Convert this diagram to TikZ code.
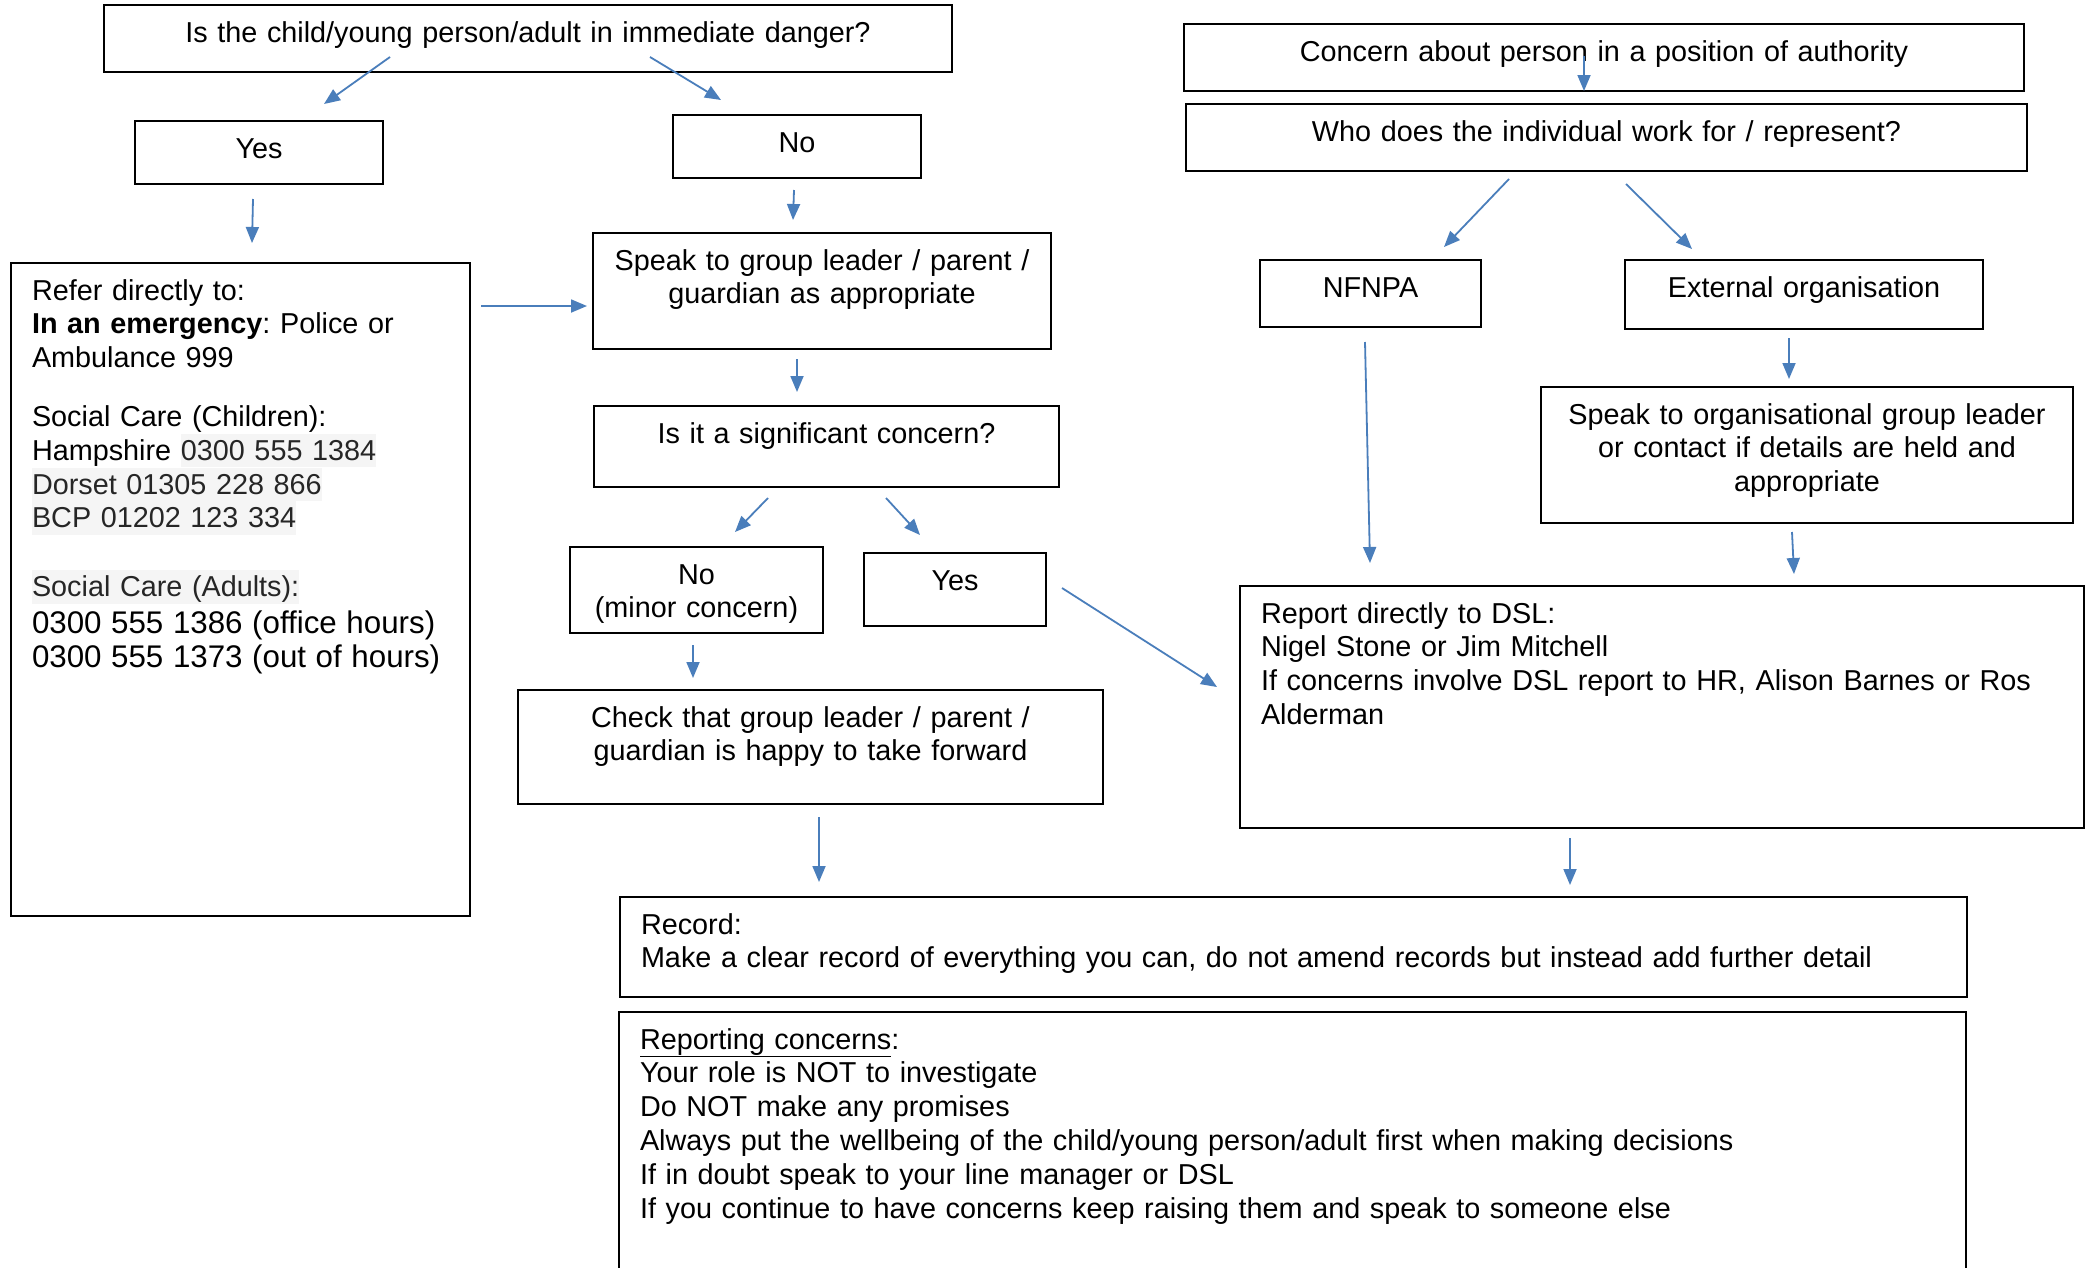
\documentclass[tikz,border=0pt]{standalone}
\usepackage{fontspec}
\setmainfont{Liberation Sans}
\usetikzlibrary{arrows.meta}
\definecolor{arrowblue}{RGB}{74,126,187}
\definecolor{hlgrey}{RGB}{245,245,245}
\newcommand{\hlt}[1]{{\setlength{\fboxsep}{0pt}\colorbox{hlgrey}{\rule[-7pt]{0pt}{33.5pt}\color{black!85}#1}}}
\frenchspacing
\begin{document}
\frenchspacing
\begin{tikzpicture}[x=1pt,y=-1pt,
  box/.style={draw=black, line width=1.5pt, inner ysep=0pt, outer sep=0pt, anchor=north west, text height=37pt, font=\fontsize{28.8}{33.8}\selectfont\frenchspacing},
  cbox/.style={box, align=center, inner xsep=10pt},
  lbox/.style={box, align=left, inner xsep=21pt},
  arr/.style={draw=arrowblue, line width=1.8pt, -{Triangle[length=16pt,width=13pt]}},
]
\fill[white] (0,0) rectangle (2090,1267);
\useasboundingbox (0,0) rectangle (2090,1267);

% left column
\node[cbox, text width=828pt, text depth=30pt] (top) at (104,5) {Is the child/young person/adult in immediate danger?};
\node[cbox, text width=228pt, text depth=26pt] (yes1) at (135,121) {Yes};
\node[cbox, text width=228pt, text depth=26pt] (no1) at (673,115) {No};
\node[lbox, text width=417pt, text depth=616pt] (refer) at (11,263) {Refer directly to:\\
\textbf{In an emergency}: Police or\\
Ambulance 999\\[25pt]
Social Care (Children):\\
Hampshire \hlt{0300 555 1384}\\
\hlt{Dorset 01305 228 866}\\
\hlt{BCP 01202 123 334}\\[35pt]
\hlt{Social Care (Adults):}\\[6pt]
\fontsize{31.3}{29}\selectfont\mbox{0300 555 1386 (office hours)}\\
\mbox{0300 555 1373 (out of hours)}};
\node[cbox, text width=438pt, text depth=79pt] (speak) at (593,233) {Speak to group leader / parent /\\guardian as appropriate};
\node[cbox, text width=445pt, text depth=44pt] (sig) at (594,406) {Is it a significant concern?};
\node[cbox, text width=233pt, text depth=49pt] (nominor) at (570,547) {No\\(minor concern)};
\node[cbox, text width=162pt, text depth=36pt] (yes2) at (864,553) {Yes};
\node[cbox, text width=565pt, text depth=77pt] (check) at (518,690) {Check that group leader / parent /\\guardian is happy to take forward};
\node[lbox, text width=1305pt, text depth=63pt] (record) at (620,897) {Record:\\Make a clear record of everything you can, do not amend records but instead add further detail};
\node[lbox, text width=1305pt, text depth=251pt] (report) at (619,1012) {\underline{Reporting concerns}:\\
Your role is NOT to investigate\\
Do NOT make any promises\\
Always put the wellbeing of the child/young person/adult first when making decisions\\
If in doubt speak to your line manager or DSL\\
If you continue to have concerns keep raising them and speak to someone else};

% right column
\node[cbox, text width=820pt, text depth=30pt] (concern) at (1184,24) {Concern about person in a position of authority};
\node[cbox, text width=821pt, text depth=30pt] (who) at (1186,104) {Who does the individual work for / represent?};
\node[cbox, text width=201pt, text depth=30pt] (nfnpa) at (1260,260) {NFNPA};
\node[cbox, text width=338pt, text depth=32pt] (ext) at (1625,260) {External organisation};
\node[cbox, text width=512pt, text depth=99pt] (speakorg) at (1541,387) {Speak to organisational group leader\\or contact if details are held and\\appropriate};
\node[lbox, text width=802pt, text depth=205pt] (dsl) at (1240,586) {Report directly to DSL:\\
Nigel Stone or Jim Mitchell\\
If concerns involve DSL report to HR, Alison Barnes or Ros\\
Alderman};

% connectors
\draw[arr] ([shift={(-138,-15)}]top.south) -- ([shift={(65,-17)}]yes1.north);
\draw[arr] ([shift={(122,-15)}]top.south) -- ([shift={(-76,-15)}]no1.north);
\draw[arr] ([shift={(-6,15)}]yes1.south) -- ([shift={(11.5,-20)}]refer.north);
\draw[arr] ([shift={(-3,12)}]no1.south) -- ([shift={(-29,-13)}]speak.north);
\draw[arr] ([shift={(11,43)}]refer.north east) -- ([shift={(-6,15)}]speak.west);
\draw[arr] ([shift={(-25,10)}]speak.south) -- ([shift={(-29.5,-14)}]sig.north);
\draw[arr] ([shift={(-58.5,11)}]sig.south) -- ([shift={(38.5,-15)}]nominor.north);
\draw[arr] ([shift={(59.5,11)}]sig.south) -- ([shift={(-35,-18)}]yes2.north);
\draw[arr] ([shift={(-3.5,12)}]nominor.south) -- ([shift={(-117.5,-12)}]check.north);
\draw[arr] ([shift={(16,-1.5)}]yes2.east) -- ([shift={(-23,-20)}]dsl.west);
\draw[arr] ([shift={(8.5,13)}]check.south) -- ([shift={(199,-15)}]record.north west);
\draw[arr] ([shift={(-20,-35)}]concern.south) -- ([shift={(-22.5,-13)}]who.north);
\draw[arr] ([shift={(-97.5,8)}]who.south) -- ([shift={(73.5,-13)}]nfnpa.north);
\draw[arr] ([shift={(19.5,13)}]who.south) -- ([shift={(-112,-11)}]ext.north);
\draw[arr] ([shift={(-15,9)}]ext.south) -- ([shift={(-18,-8)}]speakorg.north);
\draw[arr] ([shift={(-5.5,15)}]nfnpa.south) -- ([shift={(130,-23)}]dsl.north west);
\draw[arr] ([shift={(-15,9)}]speakorg.south) -- ([shift={(132,-12)}]dsl.north);
\draw[arr] ([shift={(-92,10)}]dsl.south) -- ([shift={(276.5,-12)}]record.north);
\end{tikzpicture}
\end{document}
